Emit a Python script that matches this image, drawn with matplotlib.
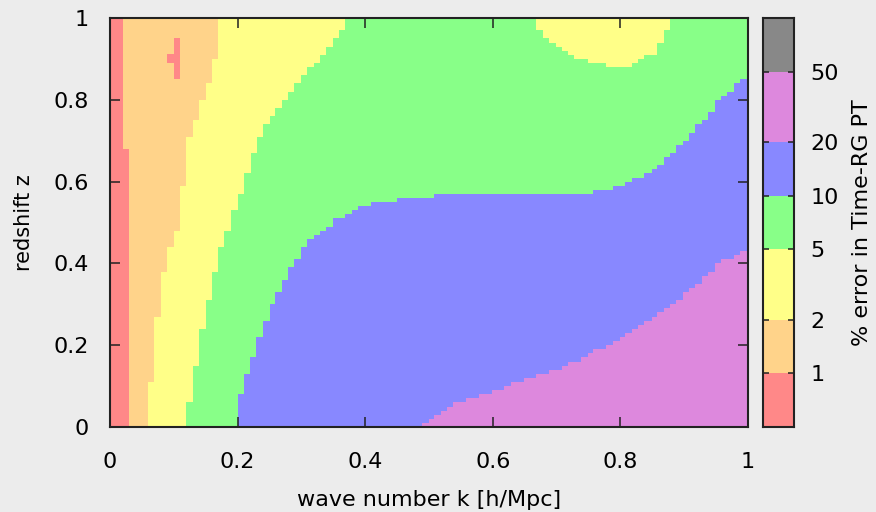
import matplotlib
matplotlib.use('Agg')
import matplotlib.pyplot as plt
from matplotlib.ticker import NullLocator

plt.rcParams['font.family'] = ['DejaVu Sans']

# colour bands of the % error (log spaced)
levels = [0.5, 1, 2, 5, 10, 20, 50, 100]
colors = ['#ff8888', '#ffd38a', '#ffff88', '#88ff88', '#8888ff', '#dd88dd', '#888888']
level_ticks = [1, 2, 5, 10, 20, 50]
level_labels = ['1', '2', '5', '10', '20', '50']

axis_ticks = [0, 0.2, 0.4, 0.6, 0.8, 1.0]
axis_labels = ['0', '0.2', '0.4', '0.6', '0.8', '1']

# 1% contour, k(z), step held from z[i] to z[i+1]
z_1pc = [0.0, 0.68, 1.0]
k_1pc = [0.03, 0.02, 0.02]

# 2% contour
z_2pc = [0.0, 0.11, 0.27, 0.38, 0.44, 0.48, 0.59, 0.71, 0.75, 0.80, 0.84, 0.90, 1.0]
k_2pc = [0.06, 0.069, 0.08, 0.089, 0.10, 0.11, 0.119, 0.13, 0.14, 0.15, 0.16, 0.169, 0.169]

# 5% contour
z_5pc = [0.0, 0.06, 0.15, 0.24, 0.31, 0.38, 0.44, 0.48, 0.53, 0.57, 0.62, 0.67, 0.71, 0.74,
         0.76, 0.78, 0.80, 0.82, 0.84, 0.86, 0.88, 0.89, 0.91, 0.93, 0.95, 0.97, 1.0]
k_5pc = [0.119, 0.13, 0.14, 0.15, 0.16, 0.17, 0.179, 0.19, 0.20, 0.21, 0.221, 0.23, 0.24, 0.25,
         0.259, 0.269, 0.279, 0.288, 0.30, 0.309, 0.319, 0.329, 0.339, 0.35, 0.359, 0.368, 0.368]

# 5% island at the top (lower edge z(k))
k_5pc_top = [0.668, 0.678, 0.688, 0.699, 0.708, 0.718, 0.727, 0.749, 0.777, 0.818, 0.828,
             0.837, 0.857, 0.868, 0.878]
z_5pc_top = [0.97, 0.95, 0.94, 0.93, 0.92, 0.91, 0.90, 0.89, 0.88, 0.89, 0.90,
             0.91, 0.94, 0.97, 0.97]

# 10% contour, left part k(z)
z_10pc_a = [0.0, 0.08, 0.13, 0.17, 0.22, 0.26, 0.30, 0.33, 0.36, 0.39, 0.41, 0.44, 0.46,
            0.47, 0.48, 0.49, 0.51, 0.52, 0.53, 0.54, 0.55, 0.56]
k_10pc_a = [0.20, 0.21, 0.22, 0.229, 0.24, 0.25, 0.259, 0.27, 0.279, 0.288, 0.30, 0.309, 0.32,
            0.329, 0.339, 0.35, 0.368, 0.379, 0.389, 0.409, 0.45, 0.45]
# 10% contour, right part z(k)
k_10pc_b = [0.45, 0.508, 0.757, 0.789, 0.807, 0.818, 0.837, 0.849, 0.858, 0.868, 0.878, 0.887,
            0.898, 0.907, 0.917, 0.928, 0.937, 0.948, 0.958, 0.967, 0.978, 0.987, 1.0]
z_10pc_b = [0.56, 0.57, 0.58, 0.59, 0.60, 0.61, 0.62, 0.63, 0.64, 0.66, 0.67, 0.69,
            0.70, 0.72, 0.74, 0.75, 0.77, 0.80, 0.81, 0.82, 0.84, 0.85, 0.85]

# 20% contour z(k)
k_20pc = [0.489, 0.50, 0.508, 0.519, 0.528, 0.538, 0.558, 0.578, 0.599, 0.618, 0.629, 0.649,
          0.668, 0.688, 0.708, 0.718, 0.738, 0.749, 0.757, 0.777, 0.788, 0.799, 0.807, 0.818,
          0.828, 0.837, 0.849, 0.858, 0.868, 0.878, 0.887, 0.898, 0.907, 0.917, 0.928, 0.937,
          0.948, 0.958, 0.978, 0.987, 1.0]
z_20pc = [0.01, 0.02, 0.03, 0.04, 0.05, 0.06, 0.07, 0.08, 0.09, 0.10, 0.11, 0.12,
          0.13, 0.14, 0.15, 0.16, 0.17, 0.18, 0.19, 0.20, 0.21, 0.22, 0.23, 0.24,
          0.25, 0.26, 0.27, 0.28, 0.29, 0.30, 0.31, 0.33, 0.34, 0.35, 0.37, 0.38,
          0.40, 0.41, 0.42, 0.43, 0.43]

# small <1% spot near k=0.1, z=0.9 (rectangles)
spot_k0 = [0.100, 0.089]
spot_k1 = [0.110, 0.100]
spot_z0 = [0.851, 0.891]
spot_z1 = [0.951, 0.911]

fig = plt.figure(figsize=(8.76, 5.12), dpi=100, facecolor='#ececec')
ax = fig.add_axes([110/876, 85/512, 638/876, 409/512])
ax.set_facecolor(colors[0])

kw = dict(linewidth=0, antialiased=False)
ax.fill_betweenx(z_1pc, k_1pc, 1.0, step='post', color=colors[1], **kw)
ax.fill_betweenx(z_2pc, k_2pc, 1.0, step='post', color=colors[2], **kw)
ax.fill_betweenx(z_5pc, k_5pc, 1.0, step='post', color=colors[3], **kw)
ax.fill_betweenx(z_10pc_a, k_10pc_a, 1.0, step='post', color=colors[4], **kw)
ax.fill_between(k_10pc_b, 0.0, z_10pc_b, step='post', color=colors[4], **kw)
ax.fill_between(k_20pc, 0.0, z_20pc, step='post', color=colors[5], **kw)
ax.fill_between(k_5pc_top, z_5pc_top, 1.0, step='post', color=colors[2], **kw)
for a, b, c, d in zip(spot_k0, spot_k1, spot_z0, spot_z1):
    ax.bar(a, d - c, width=b - a, bottom=c, align='edge', color=colors[0], **kw)

ax.set_xlim(0, 1)
ax.set_ylim(0, 1)
ax.set_xticks(axis_ticks, labels=axis_labels)
ax.set_yticks(axis_ticks, labels=axis_labels)
ax.tick_params(direction='in', length=7, width=1.1, top=True, right=True,
               labelsize=16, color='#222222')
ax.tick_params(axis='x', pad=18)
ax.tick_params(axis='y', pad=15)
for s in ax.spines.values():
    s.set_linewidth(1.5)
    s.set_color('#222222')
ax.set_xlabel('wave number k [h/Mpc]', fontsize=16, labelpad=13)
ax.set_ylabel('redshift z', fontsize=15, labelpad=14)

# colour key
cax = fig.add_axes([763/876, 85/512, 31/876, 409/512])
cax.set_yscale('log')
for lo, hi, c in zip(levels[:-1], levels[1:], colors):
    cax.bar(0.5, hi - lo, width=1.0, bottom=lo, color=c, linewidth=0)
cax.set_xlim(0, 1)
cax.set_ylim(levels[0], levels[-1])
cax.set_xticks([])
cax.set_yticks(level_ticks, labels=level_labels)
cax.yaxis.set_minor_locator(NullLocator())
cax.tick_params(axis='y', direction='in', length=4, width=1.1, left=True, right=True,
                labelleft=False, labelright=True, labelsize=16, pad=12, color='#222222')
for s in cax.spines.values():
    s.set_linewidth(1.5)
    s.set_color('#222222')
cax.yaxis.set_label_position('right')
cax.set_ylabel('% error in Time-RG PT', fontsize=16, labelpad=9)

fig.savefig('out.png', dpi=100, facecolor=fig.get_facecolor())
